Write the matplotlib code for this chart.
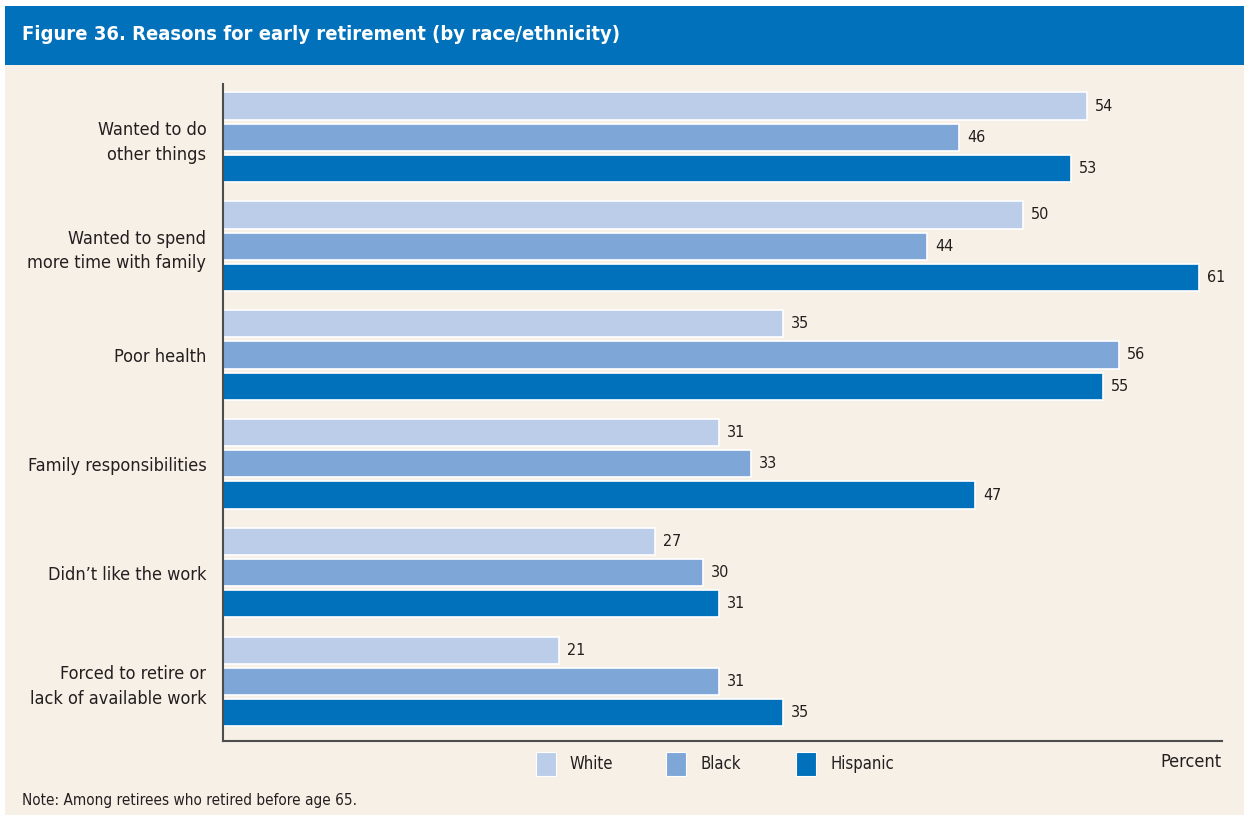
import matplotlib.pyplot as plt
from matplotlib.patches import Rectangle
import numpy as np

plt.rcParams['font.family'] = ['DejaVu Sans']
plt.rcParams['font.stretch'] = 'condensed'

reasons = ["Wanted to do\nother things", "Wanted to spend\nmore time with family", "Poor health",
           "Family responsibilities", "Didn\u2019t like the work", "Forced to retire or\nlack of available work"]
groups = ["White", "Black", "Hispanic"]
white = [54, 50, 35, 31, 27, 21]
black = [46, 44, 56, 33, 30, 31]
hispanic = [53, 61, 55, 47, 31, 35]
colors = ["#BBCDE9", "#7EA7D8", "#0071BA"]
bg = "#F7F0E6"
txt = "#231F20"

W, H = 1244, 817
fig = plt.figure(figsize=(W/100, H/100), dpi=100)
fig.patch.set_facecolor("white")
# cream panel and blue header
fig.patches.append(Rectangle((5/W, 0.002), 1, 1 - 65/H - 0.002, transform=fig.transFigure,
                             facecolor=bg, edgecolor="none", zorder=-5))
fig.patches.append(Rectangle((5/W, 1 - 65/H), 1, 59/H, transform=fig.transFigure,
                             facecolor="#0071BA", edgecolor="none", zorder=-5))
fig.text(22/W, 1 - 35/H, "Figure 36. Reasons for early retirement (by race/ethnicity)",
         color="white", fontsize=14.5, fontweight="bold", va="center", ha="left")

ax = fig.add_axes([223/W, 1 - 741/H, 999/W, (741 - 84)/H])
ax.set_facecolor(bg)

y = np.arange(len(reasons))
pitch = 0.287
h = 0.25
for k, (vals, c) in enumerate(zip([white, black, hispanic], colors)):
    pos = y + (k - 1) * pitch
    ax.barh(pos, vals, height=h, color=c, edgecolor="white", linewidth=1.2, label=groups[k])
    for p, v in zip(pos, vals):
        ax.text(v + 0.5, p, str(v), va="center", ha="left", fontsize=11.5, color=txt)

ax.set_xlim(0, 62.45)
ax.set_ylim(5.547, -0.49)
ax.set_yticks(y)
ax.set_yticklabels(reasons, fontsize=13, color=txt, linespacing=1.45)
ax.tick_params(axis="y", length=0, pad=12)
ax.set_xticks([])
for s in ["top", "right"]:
    ax.spines[s].set_visible(False)
for s in ["left", "bottom"]:
    ax.spines[s].set_color("#4D4D4D")
    ax.spines[s].set_linewidth(1.5)

# legend boxes drawn by hand to match the original placement
leg_x = [536, 666, 796]
for lx, c, g in zip(leg_x, colors, groups):
    fig.patches.append(Rectangle((lx/W, 1 - 776/H), 20/W, 24/H, transform=fig.transFigure,
                                 facecolor=c, edgecolor="white", linewidth=0.8))
    fig.text((lx + 34)/W, 1 - 764/H, g, ha="left", va="center", fontsize=12, color=txt)

fig.text(1222/W, 1 - 762/H, "Percent", ha="right", va="center", fontsize=13, color=txt)
fig.text(22/W, 1 - 800/H, "Note: Among retirees who retired before age 65.", ha="left",
         va="center", fontsize=11, color=txt)

fig.savefig("out.png", dpi=100, facecolor=fig.get_facecolor())
